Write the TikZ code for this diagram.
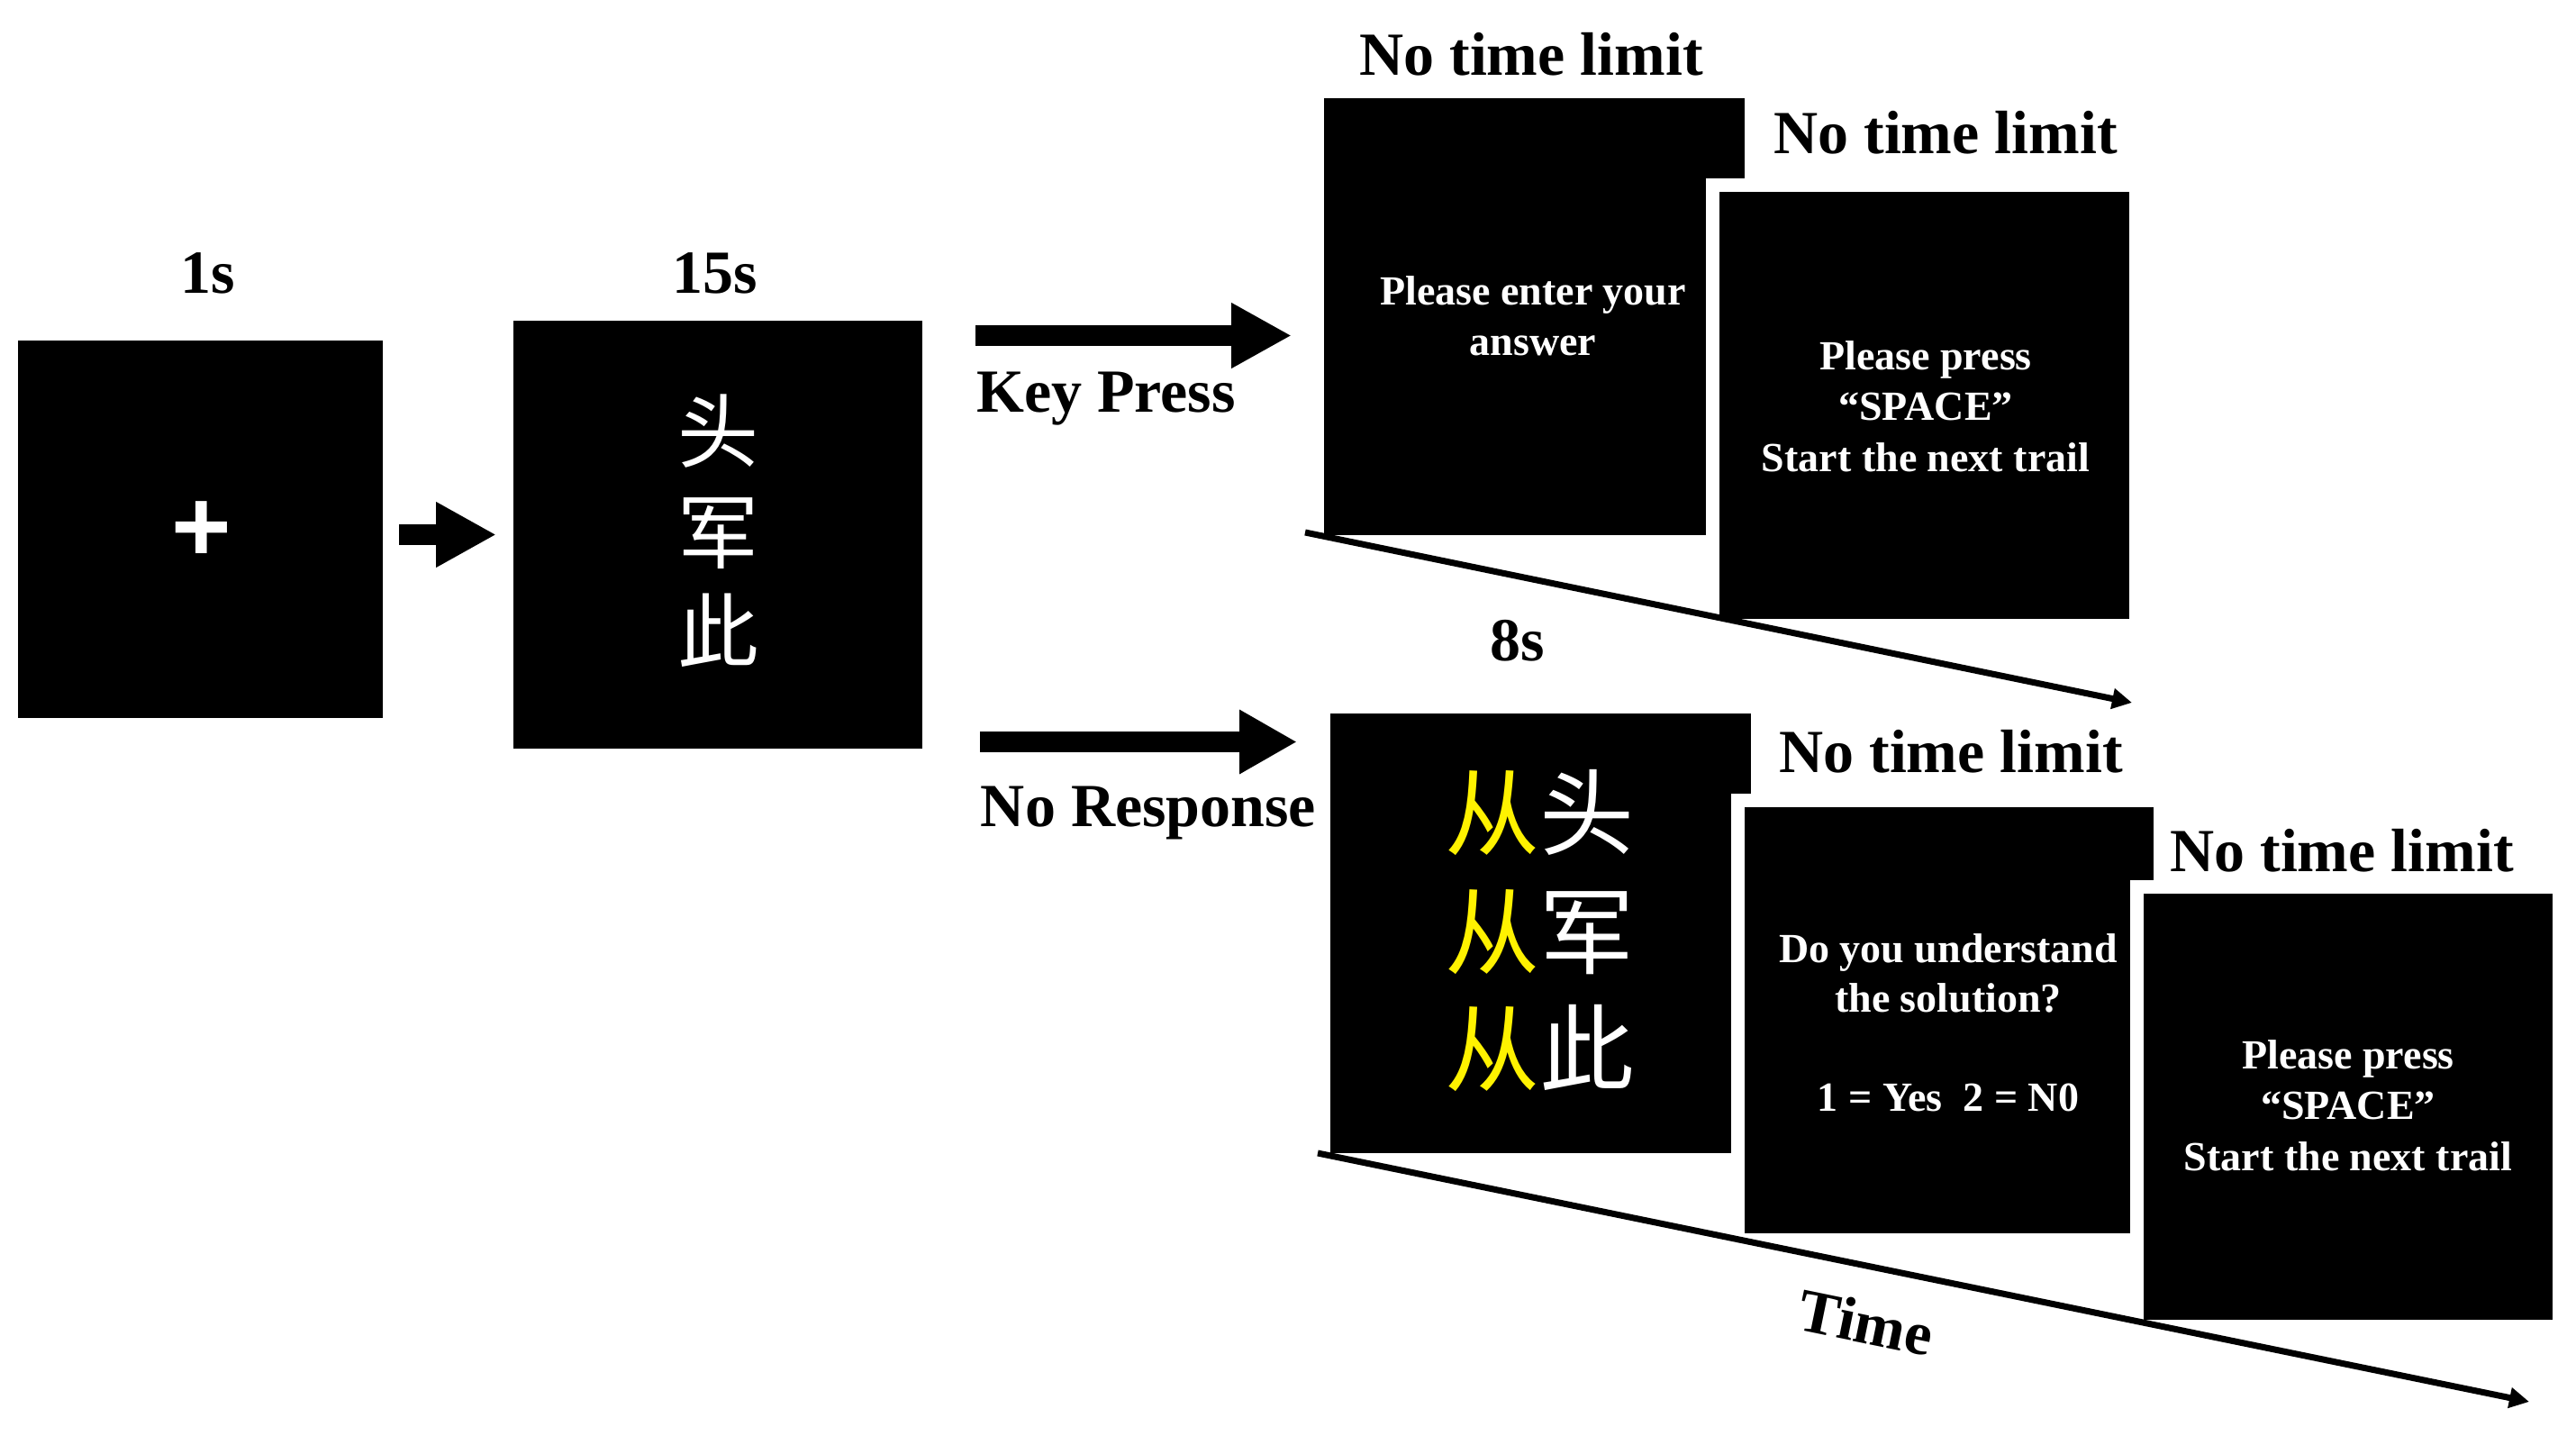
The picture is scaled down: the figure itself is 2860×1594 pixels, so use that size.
\documentclass[tikz,border=0pt]{standalone}
\usepackage{fontspec}
\setmainfont{Liberation Serif}
\newfontfamily\cjk{Noto Sans CJK SC}
\newfontfamily\crossfont{Liberation Sans}
\usetikzlibrary{arrows.meta}
\begin{document}
\begin{tikzpicture}[x=1pt,y=-1pt,
  screen/.style={fill=black, draw=white, line width=15pt, inner sep=0pt, outer sep=0pt},
  title/.style={font=\fontsize{68}{68}\selectfont\bfseries, anchor=base, inner sep=0pt},
  scrtext/.style={font=\fontsize{46}{46}\selectfont\bfseries, text=white, anchor=base, inner sep=0pt},
  hanzi/.style={font=\fontsize{90}{90}\selectfont\cjk, text=white, inner sep=0pt},
  hanzib/.style={font=\fontsize{105}{105}\selectfont\cjk, text=white, inner sep=0pt},
  blockarrow/.style={line width=23pt, -{Triangle[length=67pt,width=68pt]}},
  timeline/.style={line width=7pt, -{Triangle[length=22pt,width=22pt]}}
]
\useasboundingbox (0,0) rectangle (2860,1594);

% fixation screen
\node[screen, minimum width=420pt, minimum height=434pt] (s1) at (222.5,587.5) {};
\node[font=\fontsize{114}{114}\selectfont\crossfont\bfseries, text=white, inner sep=0pt] (cross) at (224,590) {+};
\node[title] (t1) at (231,326) {1s};

% problem screen
\node[screen, minimum width=469pt, minimum height=490pt] (s2) at (797,593.5) {};
\node[title] (t2) at (794,326) {15s};
\node[hanzi] (h1) at (797,479) {头};
\node[hanzi] (h2) at (797,592) {军};
\node[hanzi] (h3) at (797,700) {此};

\coordinate (a1s) at (443,593.5);
\coordinate (a1e) at (551,593.5);
\draw[blockarrow] (a1s) -- (a1e);

% key press branch
\coordinate (a2s) at (1083,372.5);
\coordinate (a2e) at (1434,372.5);
\draw[blockarrow] (a2s) -- (a2e);
\node[title] (kp) at (1228,457) {Key Press};

\node[screen, minimum width=482pt, minimum height=500pt] (s3) at (1703.5,351.5) {};
\node[title] (t3) at (1700,84) {No time limit};
\node[scrtext] (s3a) at (1702,339) {Please enter your};
\node[scrtext] (s3b) at (1702,395) {answer};

\node[screen, minimum width=470pt, minimum height=489pt] (s4) at (2136.5,450) {};
\node[title] (t4) at (2160,171) {No time limit};
\node[scrtext] (s4a) at (2138,411) {Please press};
\node[scrtext] (s4b) at (2138,467) {“SPACE”};
\node[scrtext] (s4c) at (2138,523) {Start the next trail};

\coordinate (tl1s) at (1449,591);
\coordinate (tl1e) at (2367,780);
\draw[timeline] (tl1s) -- (tl1e);

\node[title] (t8) at (1685,733) {8s};

% no response branch
\coordinate (a3s) at (1088,823.5);
\coordinate (a3e) at (1440,823.5);
\draw[blockarrow, -{Triangle[length=64pt,width=67pt]}] (a3s) -- (a3e);
\node[title] (nr) at (1275,917) {No Response};

\node[screen, minimum width=482pt, minimum height=503pt] (s5) at (1710.5,1036) {};
\node[hanzib] (r1) at (1709,902) {\textcolor{yellow}{从}头};
\node[hanzib] (r2) at (1709,1035) {\textcolor{yellow}{从}军};
\node[hanzib] (r3) at (1709,1163) {\textcolor{yellow}{从}此};

\node[screen, minimum width=469pt, minimum height=488pt] (s6) at (2164,1132.5) {};
\node[title] (t6) at (2166,857) {No time limit};
\node[scrtext] (s6a) at (2163,1068) {Do you understand};
\node[scrtext] (s6b) at (2163,1123) {the solution?};
\node[scrtext] (s6c) at (2163,1233) {1 = Yes\ \ 2 = N0};

\node[screen, minimum width=469pt, minimum height=488pt] (s7) at (2607,1228.5) {};
\node[title] (t7) at (2600,967) {No time limit};
\node[scrtext] (s7a) at (2607,1186) {Please press};
\node[scrtext] (s7b) at (2607,1242) {“SPACE”};
\node[scrtext] (s7c) at (2607,1299) {Start the next trail};

\coordinate (tl2s) at (1463,1280);
\coordinate (tl2e) at (2808,1556);
\draw[timeline] (tl2s) -- (tl2e);
\node[title, anchor=center, rotate=-11.6] (time) at (2072,1468) {Time};
\end{tikzpicture}
\end{document}
